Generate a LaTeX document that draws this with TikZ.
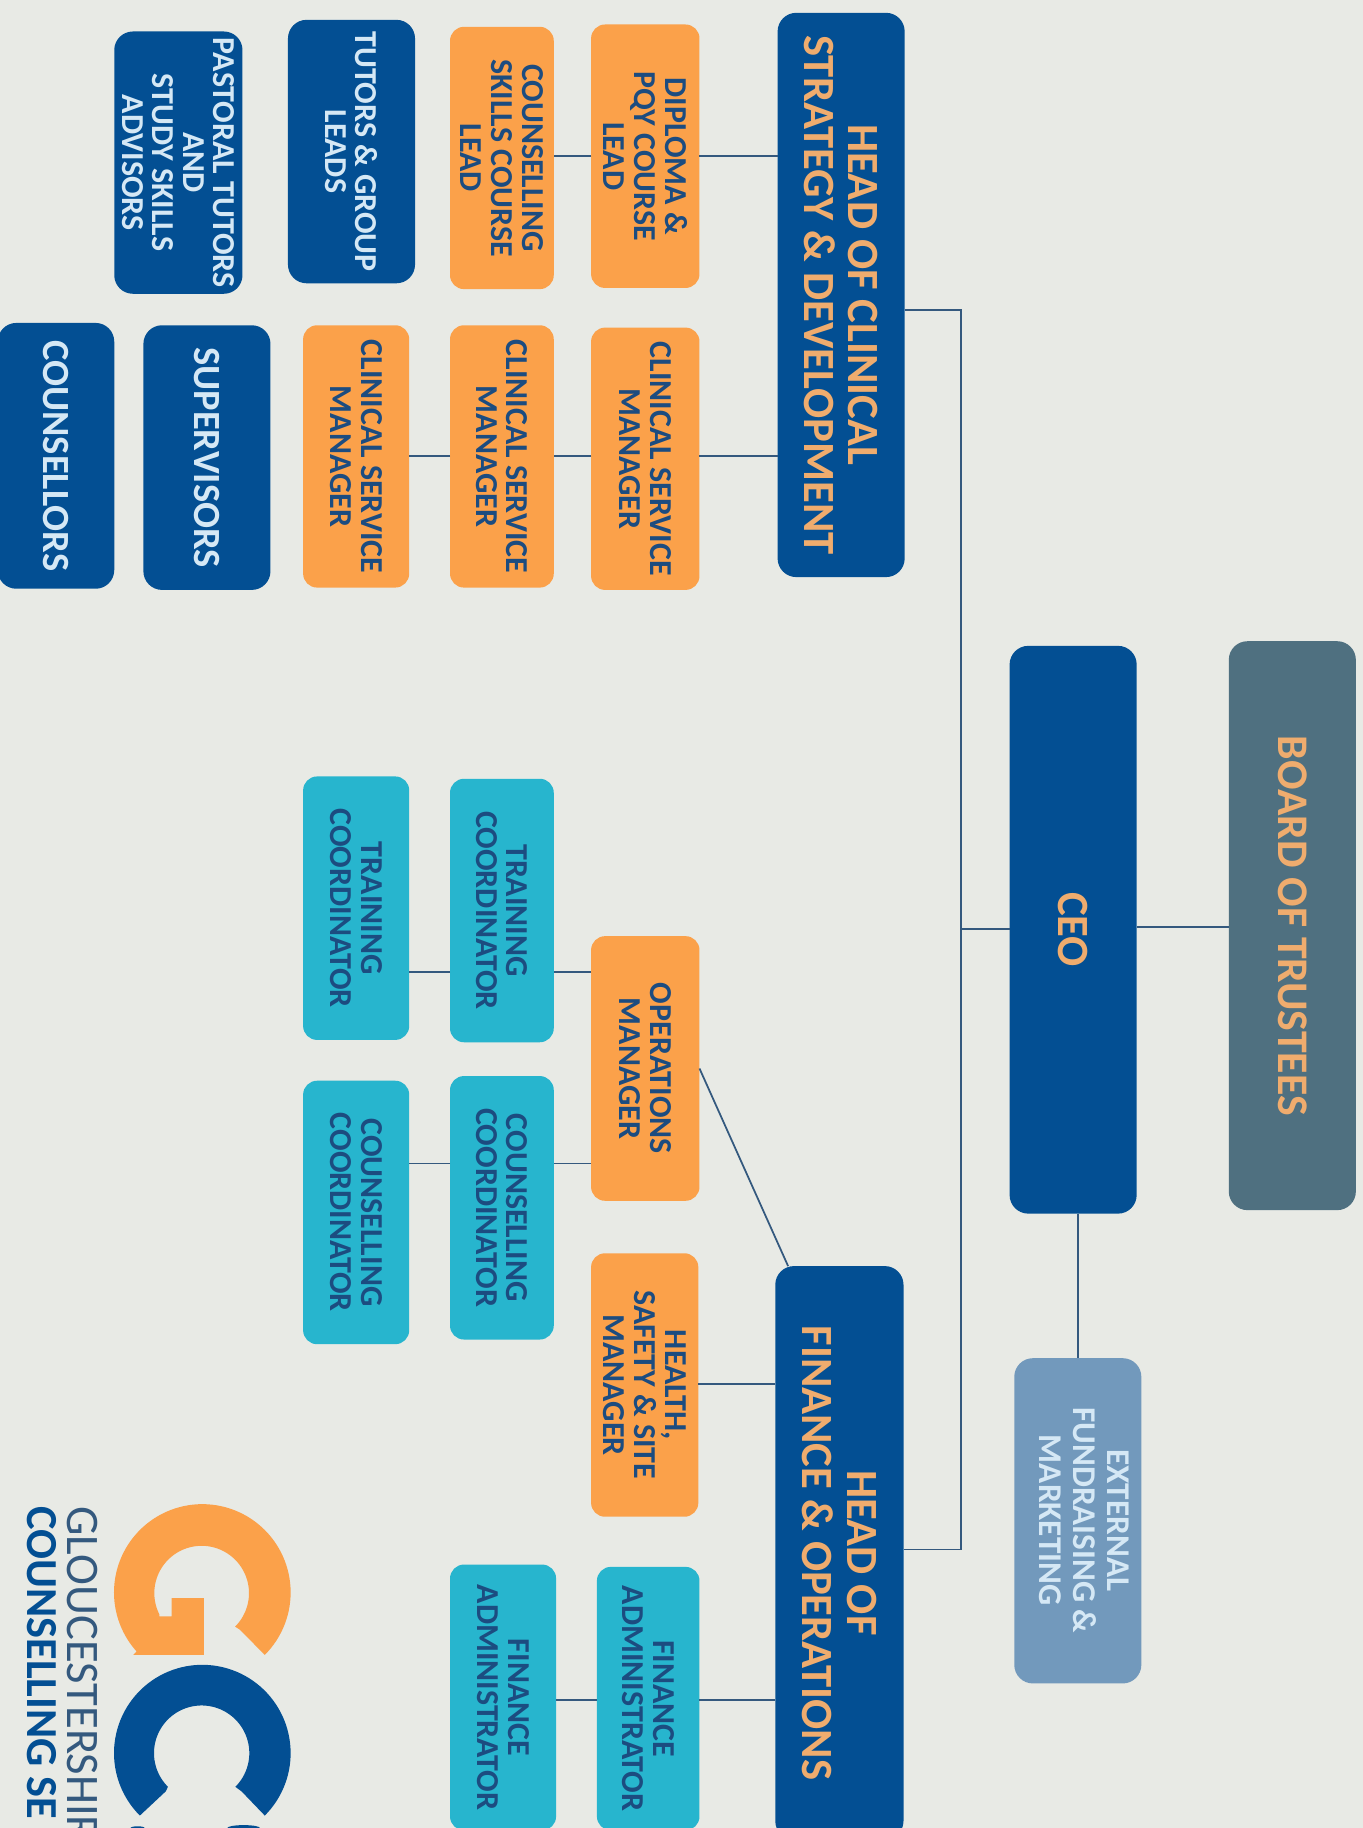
\documentclass[tikz,border=0pt]{standalone}
\usepackage{fontspec}
\setmainfont{Carlito}
\definecolor{bgc}{HTML}{E8EAE5}
\definecolor{navy}{HTML}{034F93}
\definecolor{orangec}{HTML}{FBA14A}
\definecolor{tealc}{HTML}{27B5CE}
\definecolor{slatec}{HTML}{4F7080}
\definecolor{extc}{HTML}{7299BC}
\definecolor{linec}{HTML}{34597E}
\definecolor{paletxt}{HTML}{D5E8F5}
\definecolor{darktxt}{HTML}{1C4C80}
\definecolor{headtxt}{HTML}{EFAC6E}
\tikzset{
 orgbox/.style={rotate=-90,inner sep=0pt,align=center,rounded corners=16pt,line width=0pt},
 headbox/.style={orgbox,fill=navy,text=headtxt,font=\fontsize{38.3}{38}\selectfont\bfseries},
 staffbox/.style={orgbox,fill=navy,text=paletxt,font=\fontsize{27.4}{26}\selectfont\bfseries},
 bigstaff/.style={staffbox,font=\fontsize{33}{33}\selectfont\bfseries},
 mgrbox/.style={orgbox,fill=orangec,text=darktxt,rounded corners=12pt,font=\fontsize{27.4}{26.5}\selectfont\bfseries},
 coordbox/.style={orgbox,fill=tealc,text=darktxt,rounded corners=12pt,font=\fontsize{27.4}{26.5}\selectfont\bfseries},
 extbox/.style={orgbox,fill=extc},
 extlabel/.style={rotate=-90,inner sep=0pt,align=center,text=paletxt,font=\fontsize{28.5}{29}\selectfont\bfseries},
 boardbox/.style={orgbox,fill=slatec,text=headtxt,font=\fontsize{37.5}{38}\selectfont\bfseries},
 link/.style={draw=linec,line width=1.5pt},
 logotxt/.style={rotate=-90,anchor=west,inner sep=0pt,font=\fontsize{40}{40}\selectfont},
}
\newcommand{\obox}[7]{%
 \pgfmathsetlengthmacro{\bw}{(#6-#4)*1pt}%
 \pgfmathsetlengthmacro{\bh}{(#5-#3)*1pt}%
 \pgfmathsetmacro{\bx}{(#3+#5)/2}%
 \pgfmathsetmacro{\by}{(#4+#6)/2}%
 \node[#2,minimum width=\bw,minimum height=\bh] (#1) at (\bx,\by) {#7};}
\begin{document}
\begin{tikzpicture}[x=1pt,y=-1pt]
\path[use as bounding box,clip] (0,0) rectangle (1169,1568);
\fill[bgc] (0,0) rectangle (1169,1568);
% boxes
\obox{board}{boardbox}{1054}{550}{1163}{1038}{BOARD OF TRUSTEES}
\obox{ceo}{headbox}{866}{554}{975}{1041}{CEO}
\obox{ext}{extbox}{870}{1165}{979}{1444}{}
\node[extlabel] (extl) at (930,1304) {EXTERNAL\\FUNDRAISING \&\\MARKETING};
\obox{hclin}{headbox}{667}{11}{776}{495}{HEAD OF CLINICAL\\STRATEGY \& DEVELOPMENT}
\obox{hfin}{headbox}{665}{1086}{775}{1578}{HEAD OF\\FINANCE \& OPERATIONS}
\obox{dip}{mgrbox}{507}{21}{600}{247}{DIPLOMA \&\\PQY COURSE\\LEAD}
\obox{skills}{mgrbox}{386}{23}{475}{248}{COUNSELLING\\SKILLS COURSE\\LEAD}
\obox{tutors}{staffbox}{247}{17}{356}{243}{TUTORS \& GROUP\\LEADS}
\obox{past}{staffbox}{98}{27}{208}{252}{PASTORAL TUTORS\\AND\\STUDY SKILLS\\ADVISORS}
\obox{csma}{mgrbox}{507}{281}{600}{506}{CLINICAL SERVICE\\MANAGER}
\obox{csmb}{mgrbox}{386}{279}{475}{504}{CLINICAL SERVICE\\MANAGER}
\obox{csmc}{mgrbox}{260}{279}{351}{504}{CLINICAL SERVICE\\MANAGER}
\obox{sup}{bigstaff}{123}{279}{232}{506}{SUPERVISORS}
\obox{couns}{bigstaff}{-2}{277}{98}{505}{COUNSELLORS}
\obox{traina}{coordbox}{386}{668}{475}{894}{TRAINING\\COORDINATOR}
\obox{trainb}{coordbox}{260}{666}{351}{892}{TRAINING\\COORDINATOR}
\obox{ops}{mgrbox}{507}{803}{600}{1030}{OPERATIONS\\MANAGER}
\obox{cca}{coordbox}{386}{923}{475}{1149}{COUNSELLING\\COORDINATOR}
\obox{ccb}{coordbox}{260}{927}{351}{1153}{COUNSELLING\\COORDINATOR}
\obox{hsm}{mgrbox}{507}{1075}{599}{1301}{HEALTH,\\SAFETY \& SITE\\MANAGER}
\obox{fina}{coordbox}{512}{1344}{600}{1570}{FINANCE\\ADMINISTRATOR}
\obox{finb}{coordbox}{386}{1342}{477}{1570}{FINANCE\\ADMINISTRATOR}
% trunk
\coordinate (trunktop) at (824,266);
\coordinate (trunkbot) at (824,1329);
\coordinate (trunkceo) at (824,797);
\draw[link] (hclin.north |- trunktop) -- (trunktop) -- (trunkbot) -- (hfin.north |- trunkbot);
\draw[link] (ceo.south |- trunkceo) -- (trunkceo);
\coordinate (yboard) at (0,795);
\draw[link] (board.south |- yboard) -- (ceo.north |- yboard);
\draw[link] (ceo.east -| ext.west) -- (ext.west);
% branches
\coordinate (ya) at (0,134);
\draw[link] (hclin.south |- ya) -- (dip.north |- ya);
\draw[link] (dip.south |- ya) -- (skills.north |- ya);
\coordinate (yb) at (0,391);
\draw[link] (hclin.south |- yb) -- (csma.north |- yb);
\draw[link] (csma.south |- yb) -- (csmb.north |- yb);
\draw[link] (csmb.south |- yb) -- (csmc.north |- yb);
\coordinate (yc) at (0,834);
\draw[link] (ops.south |- yc) -- (traina.north |- yc);
\draw[link] (traina.south |- yc) -- (trainb.north |- yc);
\coordinate (yd) at (0,998);
\draw[link] (ops.south |- yd) -- (cca.north |- yd);
\draw[link] (cca.south |- yd) -- (ccb.north |- yd);
\coordinate (ye) at (0,1187);
\draw[link] (hfin.south |- ye) -- (hsm.north |- ye);
\coordinate (yf) at (0,1458);
\draw[link] (hfin.south |- yf) -- (fina.north |- yf);
\draw[link] (fina.south |- yf) -- (finb.north |- yf);
\coordinate (diagend) at (676,0);
\draw[link] (ops.north) -- (hfin.west -| diagend);
% logo
\begin{scope}[shift={(0,1200.7)},x=0.2859pt,y=-0.2859pt]
\fill[orangec] plot[domain=45:-222,samples=90] ({607+265*cos(\x)},{578+265*sin(\x)})
  -- (400,765) -- (612,765) -- (612,595) -- (515,595) -- (515,650) -- (478,650)
  -- plot[domain=-207:45,samples=90] ({605+142*cos(\x)},{580+142*sin(\x)}) -- (720,690) -- cycle;
\fill[navy] plot[domain=45:-225,samples=90] ({607+265*cos(\x)},{1060+265*sin(\x)})
  -- (497,1175) -- plot[domain=-225:45,samples=90] ({605+143*cos(\x)},{1060+143*sin(\x)}) -- (725,1175) -- cycle;
\end{scope}
\fill[navy] (118,1568) ellipse [x radius=6,y radius=1.5];
\fill[navy] (209,1568) ellipse [x radius=14,y radius=2.5];
\node[logotxt,text=linec] (logoa) at (71,1292) {GLOUCESTERSHIR};
\node[logotxt,text=navy,font=\fontsize{38}{38}\selectfont\bfseries] (logob) at (36,1292) {COUNSELLING SE};
\end{tikzpicture}
\end{document}
